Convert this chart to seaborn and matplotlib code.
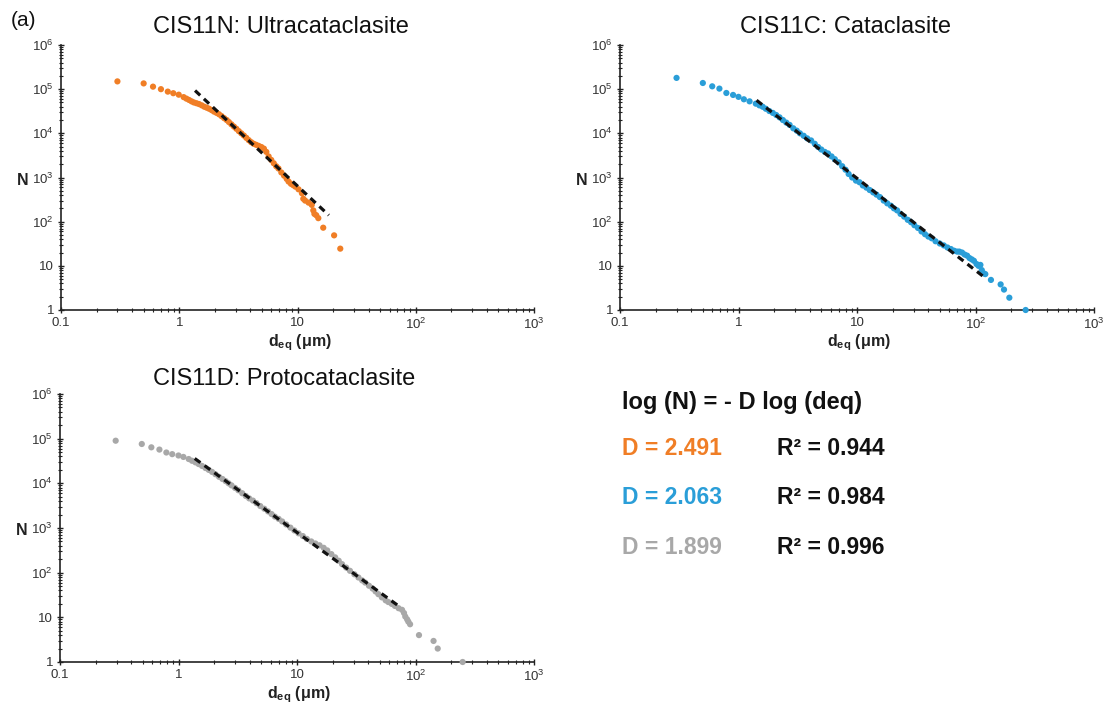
import matplotlib
matplotlib.use("Agg")
import matplotlib.pyplot as plt
import matplotlib.ticker as mticker
import pandas as pd
import seaborn as sns

# Cumulative grain counts N vs equivalent diameter d_eq (um)
n_d = [0.30, 0.50, 0.60, 0.70, 0.80, 0.89, 0.99, 1.09, 1.15, 1.21, 1.27, 1.33, 1.40, 1.47,
       1.55, 1.63, 1.71, 1.79, 1.88, 1.97, 2.07, 2.17, 2.28, 2.40, 2.52, 2.63, 2.76, 2.90,
       3.04, 3.19, 3.35, 3.52, 3.69, 3.87, 4.06, 4.26, 4.47, 4.70, 4.95, 5.2, 5.45, 5.7,
       6.0, 6.3, 6.6, 6.9, 7.3, 7.7, 8.1, 8.4, 8.8, 9.2, 9.6, 10.2, 10.9, 11.2, 11.6, 12.4,
       13.2, 13.6, 13.9, 14.4, 15.0, 16.5, 20.4, 23.0]
n_N = [1.5e5, 1.35e5, 1.14e5, 1.0e5, 8.8e4, 8.1e4, 7.5e4, 6.6e4, 6.1e4, 5.7e4, 5.3e4, 5.0e4,
       4.8e4, 4.6e4, 4.3e4, 4.0e4, 3.8e4, 3.6e4, 3.35e4, 3.1e4, 2.9e4, 2.7e4, 2.45e4, 2.2e4,
       2.0e4, 1.8e4, 1.6e4, 1.42e4, 1.27e4, 1.12e4, 1.0e4, 8.9e3, 7.9e3, 7.0e3, 6.3e3, 5.8e3,
       5.5e3, 5.2e3, 4.9e3, 4.5e3, 3.8e3, 3.0e3, 2.5e3, 2.1e3, 1.8e3, 1.6e3, 1.3e3, 1.1e3,
       9.3e2, 8.1e2, 7.2e2, 6.7e2, 6.2e2, 5.4e2, 4.4e2, 3.3e2, 3.0e2, 2.7e2, 2.4e2, 1.8e2,
       1.5e2, 1.4e2, 1.2e2, 73, 49, 24.5]

c_d = [0.30, 0.50, 0.60, 0.69, 0.79, 0.90, 1.0, 1.11, 1.24, 1.40, 1.50, 1.6, 1.7, 1.82, 1.95,
       2.08, 2.22, 2.37, 2.53, 2.7, 2.9, 3.1, 3.3, 3.55, 3.8, 4.1, 4.4, 4.7, 5.0, 5.35, 5.7,
       6.1, 6.5, 7.0, 7.5, 8.0, 8.5, 9.1, 9.8, 10.5, 11.2, 12.0, 12.8, 13.7, 14.6, 15.6, 16.8,
       18.0, 19.3, 20.5, 21.8, 23.3, 25, 26.8, 28.6, 30.5, 32.7, 35, 37.5, 40, 42.7, 46, 50,
       54, 58, 62, 66, 70, 73, 77, 81, 85, 89, 93, 97, 102, 106, 110, 113, 117, 121, 135,
       163, 174, 193, 265]
c_N = [1.8e5, 1.38e5, 1.16e5, 1.03e5, 8.2e4, 7.4e4, 6.7e4, 5.9e4, 5.3e4, 4.7e4, 4.3e4, 4.0e4,
       3.6e4, 3.2e4, 2.9e4, 2.6e4, 2.3e4, 2.0e4, 1.75e4, 1.55e4, 1.3e4, 1.15e4, 1.0e4, 8.8e3,
       7.7e3, 6.9e3, 5.8e3, 4.9e3, 4.3e3, 3.8e3, 3.5e3, 3.0e3, 2.6e3, 2.2e3, 1.8e3, 1.5e3,
       1.2e3, 1.0e3, 8.5e2, 7.8e2, 6.6e2, 5.9e2, 5.2e2, 4.6e2, 4.1e2, 3.6e2, 3.0e2, 2.6e2,
       2.3e2, 2.0e2, 1.8e2, 1.5e2, 1.3e2, 1.1e2, 97, 83, 72, 60, 52, 46, 42, 36, 32, 29, 26,
       24, 22, 21, 21, 20, 18, 17, 15, 14, 13, 11, 10, 10.5, 8, 6.8, 6.5, 4.8, 3.8, 2.9, 1.9,
       1.0]

d_d = [0.295, 0.49, 0.59, 0.69, 0.79, 0.885, 1.0, 1.1, 1.22, 1.30, 1.39, 1.48, 1.58, 1.69,
       1.8, 1.92, 2.05, 2.2, 2.35, 2.5, 2.65, 2.8, 3.0, 3.2, 3.45, 3.7, 3.95, 4.25, 4.55, 4.9,
       5.3, 5.7, 6.1, 6.5, 7.0, 7.5, 8.1, 8.8, 9.5, 10.3, 11.2, 12.1, 13.2, 14.3, 15.5, 16.8,
       18.0, 19.5, 21.0, 22.5, 24.0, 26.0, 28.0, 30.5, 33, 35.5, 37.6, 40.5, 43.5, 46, 48.6,
       52, 56, 59, 63, 67, 72, 77, 80, 82, 85, 87, 90, 107, 142, 154, 250]
d_N = [9.0e4, 7.6e4, 6.4e4, 5.7e4, 4.9e4, 4.5e4, 4.2e4, 3.9e4, 3.5e4, 3.2e4, 2.95e4, 2.7e4,
       2.45e4, 2.2e4, 2.0e4, 1.8e4, 1.6e4, 1.4e4, 1.25e4, 1.12e4, 1.0e4, 9.0e3, 7.9e3, 7.0e3,
       6.0e3, 5.2e3, 4.6e3, 4.1e3, 3.6e3, 3.1e3, 2.7e3, 2.35e3, 2.05e3, 1.8e3, 1.6e3, 1.4e3,
       1.2e3, 1.02e3, 8.8e2, 7.6e2, 6.6e2, 5.7e2, 5.0e2, 4.5e2, 4.1e2, 3.6e2, 3.15e2, 2.6e2,
       2.2e2, 1.85e2, 1.55e2, 1.3e2, 1.1e2, 92, 78, 67, 60, 51, 44, 38, 33, 28, 24, 22,
       20, 18, 16, 14.7, 12.5, 10.4, 9, 8.0, 7, 4.0, 2.96, 2.0, 1.0]

# power-law fit lines (end points)
n_fit_d = [1.36, 18.4]
n_fit_N = [9.3e4, 1.4e2]
c_fit_d = [1.42, 115]
c_fit_N = [5.6e4, 5.9]
d_fit_d = [1.37, 72]
d_fit_N = [3.6e4, 18]

titles = ["CIS11N: Ultracataclasite", "CIS11C: Cataclasite", "CIS11D: Protocataclasite"]
colors = ["#F07E26", "#2A9ED8", "#A8A8A8"]
D_vals = ["2.491", "2.063", "1.899"]
R2_vals = ["0.944", "0.984", "0.996"]

x_ticks = [0.1, 1, 10, 100, 1000]
x_labels = ["0.1", "1", "10", r"$\mathregular{10^{2}}$", r"$\mathregular{10^{3}}$"]
y_ticks = [1, 10, 100, 1e3, 1e4, 1e5, 1e6]
y_labels = ["1", "10"] + [r"$\mathregular{10^{%d}}$" % k for k in range(2, 7)]

sns.set_theme(style="white")
plt.rcParams['font.family'] = ['Liberation Sans', 'DejaVu Sans']
plt.rcParams['mathtext.fontset'] = 'custom'
plt.rcParams['mathtext.rm'] = 'Liberation Sans'
plt.rcParams['mathtext.bf'] = 'Liberation Sans:bold'
plt.rcParams['mathtext.it'] = 'Liberation Sans:italic'

W, H = 1111, 708
fig = plt.figure(figsize=(W / 100, H / 100), dpi=100)


def px_axes(left, top, right, bottom):
    return fig.add_axes([left / W, 1 - bottom / H, (right - left) / W, (bottom - top) / H])


panels = [
    (px_axes(61, 45, 534, 310), n_d, n_N, n_fit_d, n_fit_N, (281, 27)),
    (px_axes(620, 45, 1094, 310), c_d, c_N, c_fit_d, c_fit_N, (846, 27)),
    (px_axes(60, 394, 534, 662), d_d, d_N, d_fit_d, d_fit_N, (284, 379)),
]

for i, (ax, xs, ys, fx, fy, tpos) in enumerate(panels):
    df = pd.DataFrame({"d": xs, "N": ys})
    fit = pd.DataFrame({"d": fx, "N": fy})
    ax.set_xscale("log")
    ax.set_yscale("log")
    sns.scatterplot(data=df, x="d", y="N", ax=ax, color=colors[i], s=20,
                    edgecolor="none", clip_on=False, zorder=3)
    sns.lineplot(data=fit, x="d", y="N", ax=ax, color="#111111", lw=2.3,
                 dashes=False, zorder=4, linestyle=(0, (2.2, 1.6)))
    ax.set_xlim(0.1, 1000)
    ax.set_ylim(1, 1e6)
    ax.xaxis.set_major_locator(mticker.FixedLocator(x_ticks))
    ax.xaxis.set_major_formatter(mticker.FixedFormatter(x_labels))
    ax.yaxis.set_major_locator(mticker.FixedLocator(y_ticks))
    ax.yaxis.set_major_formatter(mticker.FixedFormatter(y_labels))
    ax.xaxis.set_minor_locator(mticker.LogLocator(base=10, subs=range(2, 10), numticks=20))
    ax.yaxis.set_minor_locator(mticker.LogLocator(base=10, subs=range(2, 10), numticks=20))
    ax.xaxis.set_minor_formatter(mticker.NullFormatter())
    ax.yaxis.set_minor_formatter(mticker.NullFormatter())
    ax.tick_params(which="major", direction="inout", length=4, width=1, colors="#222222",
                   labelsize=9.5, labelcolor="#333333", pad=3)
    ax.tick_params(which="minor", direction="inout", length=2.5, width=0.8, colors="#222222")
    ax.tick_params(axis="x", which="both", bottom=True)
    ax.tick_params(axis="y", which="both", left=True)
    for side in ["top", "right"]:
        ax.spines[side].set_visible(False)
    for side in ["left", "bottom"]:
        ax.spines[side].set_color("#222222")
        ax.spines[side].set_linewidth(1.2)
    ax.set_xlabel(r"$\mathbf{d_{eq}}$ (μm)", fontsize=11.5, fontweight="bold", color="#222222")
    ax.xaxis.set_label_coords(0.505, -0.085)
    ax.set_ylabel("N", fontsize=11.5, fontweight="bold", rotation=0, color="#222222",
                  va="center", ha="center")
    ax.yaxis.set_label_coords(-0.08, 0.49)
    ax.grid(False)
    fig.text(tpos[0] / W, 1 - tpos[1] / H, titles[i], fontsize=17, ha="center",
             va="center", color="#111111")

fig.text(24 / W, 1 - 21 / H, "(a)", fontsize=15, ha="center", va="center", color="#111111")

fig.text(622 / W, 1 - 402 / H, "log (N) = - D log (deq)", fontsize=17, fontweight="bold",
         ha="left", va="center", color="#111111")
for i, y in enumerate([448, 498, 547]):
    fig.text(622 / W, 1 - y / H, "D = " + D_vals[i], fontsize=16.5, fontweight="bold",
             ha="left", va="center", color=colors[i])
    fig.text(777 / W, 1 - y / H, "R² = " + R2_vals[i], fontsize=16.5, fontweight="bold",
             ha="left", va="center", color="#111111")

fig.savefig("out.png", dpi=100)
